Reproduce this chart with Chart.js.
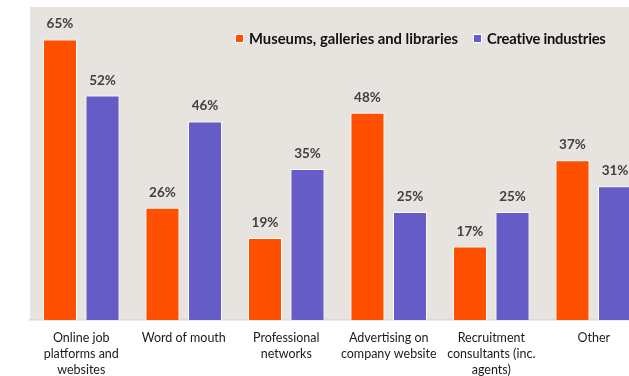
<!DOCTYPE html>
<html>
<head>
<meta charset="utf-8">
<script src="https://cdn.jsdelivr.net/npm/chart.js@4/dist/chart.umd.min.js"></script>
<style>
html,body{margin:0;padding:0;background:#fff;overflow:hidden;width:629px;height:376px;}
#wrap{position:absolute;left:0;top:0;width:645px;height:376px;}
#legend{position:absolute;left:235px;top:29px;font-family:Lato,"Open Sans",sans-serif;font-weight:bold;font-size:14.8px;color:#111;white-space:nowrap;display:flex;align-items:center;}
#legend .sw{display:inline-block;width:7px;height:7px;border:1px solid #fff;margin-right:5px;}
#legend .item{display:inline-flex;align-items:center;margin-right:15px;}
#legend .item:last-child span.t{letter-spacing:-0.25px;}
</style>
</head>
<body>
<div id="wrap"><canvas id="c"></canvas></div>
<div id="legend"></div>
<script>
const categories = [
  ["Online job","platforms and","websites"],
  ["Word of mouth"],
  ["Professional","networks"],
  ["Advertising on","company website"],
  ["Recruitment","consultants (inc.","agents)"],
  ["Other"]
];
const seriesNames = ["Museums, galleries and libraries", "Creative industries"];
const museums = [65, 26, 19, 48, 17, 37];
const creative = [52, 46, 35, 25, 25, 31];
const colors = ["#FF5000", "#655CC7"];

const legendEl = document.getElementById('legend');
seriesNames.forEach((n,i)=>{
  const it = document.createElement('span'); it.className='item';
  const sw = document.createElement('span'); sw.className='sw'; sw.style.background=colors[i];
  const t = document.createElement('span'); t.className='t'; t.textContent = n;
  it.appendChild(sw); it.appendChild(t);
  legendEl.appendChild(it);
});

const bgPlugin = {
  id:'bg',
  beforeDraw(chart){
    const {ctx, chartArea:a} = chart;
    ctx.save(); ctx.fillStyle='#E7E3DF';
    ctx.fillRect(a.left, a.top, a.right-a.left, a.bottom-a.top);
    ctx.restore();
  }
};
const labelPlugin = {
  id:'vals',
  afterDatasetsDraw(chart){
    const ctx = chart.ctx;
    ctx.save();
    ctx.font = 'bold 13.5px Lato, "Open Sans", sans-serif';
    ctx.fillStyle = '#404040';
    ctx.textAlign = 'center';
    ctx.textBaseline = 'alphabetic';
    chart.data.datasets.forEach((ds, di)=>{
      chart.getDatasetMeta(di).data.forEach((bar, i)=>{
        ctx.fillText(ds.data[i] + '%', bar.x, bar.y - 11);
      });
    });
    ctx.restore();
  }
};

new Chart(document.getElementById('c'), {
  type:'bar',
  data:{
    labels: categories,
    datasets:[
      {label: seriesNames[0], data: museums, backgroundColor: colors[0], borderColor:'#fff', borderWidth:1, categoryPercentage:0.83, barPercentage:0.8},
      {label: seriesNames[1], data: creative, backgroundColor: colors[1], borderColor:'#fff', borderWidth:1, categoryPercentage:0.83, barPercentage:0.8}
    ]
  },
  options:{
    responsive:true, maintainAspectRatio:false, animation:false,
    layout:{padding:{left:30, right:0, top:7, bottom:0}},
    plugins:{legend:{display:false}, tooltip:{enabled:false}},
    scales:{
      x:{
        afterFit(scale){ scale.height = 56; },
        grid:{display:false, drawTicks:false},
        border:{display:true, color:'#D9D9D9', width:1.5},
        ticks:{color:'#1a1a1a', font:{family:'Lato, "Open Sans", sans-serif', size:12.5, lineHeight:1.28}, padding:10, maxRotation:0, autoSkip:false}
      },
      y:{display:false, min:0, max:72.5}
    }
  },
  plugins:[bgPlugin, labelPlugin]
});
</script>
</body>
</html>
